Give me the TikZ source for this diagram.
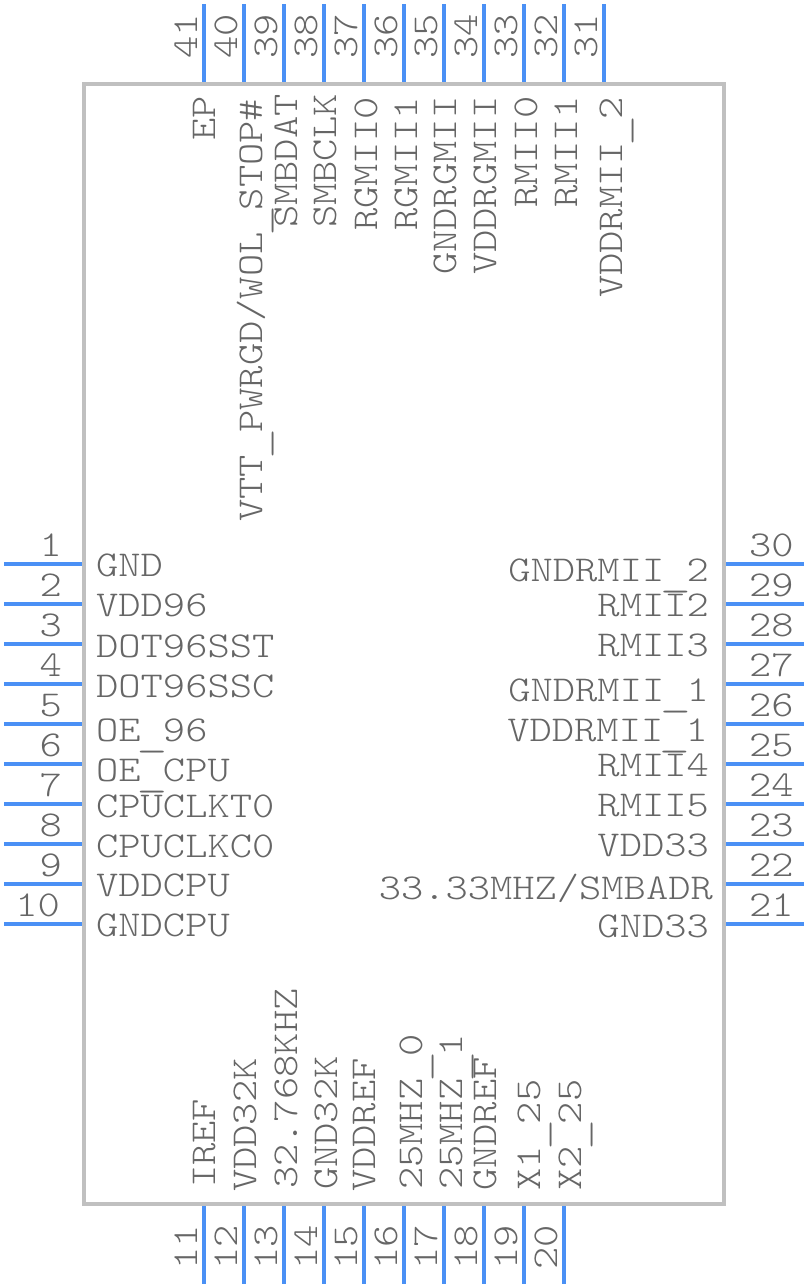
\documentclass[tikz,border=0pt]{standalone}
\usepackage{graphicx}
\usepackage{fontspec}
\setmonofont[FakeStretch=1.165]{Latin Modern Mono Light}
\definecolor{pinblue}{HTML}{4A90F5}
\definecolor{bodygray}{HTML}{C0C0C0}
\definecolor{textgray}{HTML}{666666}
\newcommand{\pinus}{\makebox[22.26pt]{\raisebox{-5pt}{\scalebox{1.4}[1]{\_}}}}
\tikzset{
    pinline/.style={draw=pinblue, line width=4pt},
    chipbody/.style={draw=bodygray, line width=4pt},
    pintext/.style={text=textgray, inner sep=0pt, font=\fontsize{36.4}{36.4}\selectfont\ttfamily},
    lefttext/.style={pintext, anchor=base west},
    righttext/.style={pintext, anchor=base east},
    uptext/.style={pintext, anchor=base west, rotate=90},
}
\begin{document}
\begin{tikzpicture}[x=1pt, y=-1pt]
    \useasboundingbox (0,0) rectangle (808,1288);
    \draw[chipbody] (84,84) rectangle (724,1204);

    % pins
    \draw[pinline] (4,564) -- (82,564) (4,604) -- (82,604) (4,644) -- (82,644) (4,684) -- (82,684) (4,724) -- (82,724)
        (4,764) -- (82,764) (4,804) -- (82,804) (4,844) -- (82,844) (4,884) -- (82,884) (4,924) -- (82,924);
    \draw[pinline] (726,564) -- (804,564) (726,604) -- (804,604) (726,644) -- (804,644) (726,684) -- (804,684) (726,724) -- (804,724)
        (726,764) -- (804,764) (726,804) -- (804,804) (726,844) -- (804,844) (726,884) -- (804,884) (726,924) -- (804,924);
    \draw[pinline] (204,4) -- (204,82) (244,4) -- (244,82) (284,4) -- (284,82) (324,4) -- (324,82) (364,4) -- (364,82) (404,4) -- (404,82)
        (444,4) -- (444,82) (484,4) -- (484,82) (524,4) -- (524,82) (564,4) -- (564,82) (604,4) -- (604,82);
    \draw[pinline] (204,1206) -- (204,1284) (244,1206) -- (244,1284) (284,1206) -- (284,1284) (324,1206) -- (324,1284) (364,1206) -- (364,1284)
        (404,1206) -- (404,1284) (444,1206) -- (444,1284) (484,1206) -- (484,1284) (524,1206) -- (524,1284) (564,1206) -- (564,1284);

    % left numbers
    \node[righttext] (n1) at (62,556) {1};
    \node[righttext] (n2) at (62,596) {2};
    \node[righttext] (n3) at (62,636) {3};
    \node[righttext] (n4) at (62,676) {4};
    \node[righttext] (n5) at (62,716) {5};
    \node[righttext] (n6) at (62,756) {6};
    \node[righttext] (n7) at (62,796) {7};
    \node[righttext] (n8) at (62,836) {8};
    \node[righttext] (n9) at (62,876) {9};
    \node[righttext] (n10) at (60,916) {10};

    % right numbers
    \node[lefttext] (n30) at (749,556) {30};
    \node[lefttext] (n29) at (749,596) {29};
    \node[lefttext] (n28) at (749,636) {28};
    \node[lefttext] (n27) at (749,676) {27};
    \node[lefttext] (n26) at (749,716) {26};
    \node[lefttext] (n25) at (749,756) {25};
    \node[lefttext] (n24) at (749,796) {24};
    \node[lefttext] (n23) at (749,836) {23};
    \node[lefttext] (n22) at (749,876) {22};
    \node[lefttext] (n21) at (749,916) {21};

    % top numbers
    \node[uptext] (n41) at (197,59) {41};
    \node[uptext] (n40) at (237,59) {40};
    \node[uptext] (n39) at (277,59) {39};
    \node[uptext] (n38) at (317,59) {38};
    \node[uptext] (n37) at (357,59) {37};
    \node[uptext] (n36) at (397,59) {36};
    \node[uptext] (n35) at (437,59) {35};
    \node[uptext] (n34) at (477,59) {34};
    \node[uptext] (n33) at (517,59) {33};
    \node[uptext] (n32) at (557,59) {32};
    \node[uptext] (n31) at (597,59) {31};

    % bottom numbers
    \node[uptext] (n11) at (197,1270) {11};
    \node[uptext] (n12) at (237,1270) {12};
    \node[uptext] (n13) at (277,1270) {13};
    \node[uptext] (n14) at (317,1270) {14};
    \node[uptext] (n15) at (357,1270) {15};
    \node[uptext] (n16) at (397,1270) {16};
    \node[uptext] (n17) at (437,1270) {17};
    \node[uptext] (n18) at (477,1270) {18};
    \node[uptext] (n19) at (517,1270) {19};
    \node[uptext] (n20) at (557,1270) {20};

    % left labels
    \node[lefttext] (gnd) at (96,576) {GND};
    \node[lefttext] (vddn) at (96,616) {VDD96};
    \node[lefttext] (dott) at (96,657) {DOT96SST};
    \node[lefttext] (dotc) at (96,697) {DOT96SSC};
    \node[lefttext] (oen) at (96,741) {OE\pinus 96};
    \node[lefttext] (oecpu) at (96,781) {OE\pinus CPU};
    \node[lefttext] (clkt) at (96,817) {CPUCLKT0};
    \node[lefttext] (clkc) at (96,857) {CPUCLKC0};
    \node[lefttext] (vddcpu) at (96,896) {VDDCPU};
    \node[lefttext] (gndcpu) at (96,936) {GNDCPU};

    % right labels
    \node[righttext] (gndrb) at (709,581) {GNDRMII\pinus 2};
    \node[righttext] (rmiib) at (709,616) {RMII2};
    \node[righttext] (rmiic) at (709,656) {RMII3};
    \node[righttext] (gndra) at (709,701) {GNDRMII\pinus 1};
    \node[righttext] (vddra) at (708,741) {VDDRMII\pinus 1};
    \node[righttext] (rmiid) at (709,776) {RMII4};
    \node[righttext] (rmiie) at (709,816) {RMII5};
    \node[righttext] (vddtt) at (709,856) {VDD33};
    \node[righttext] (smbadr) at (713,899) {33.33MHZ/SMBADR};
    \node[righttext] (gndtt) at (709,937) {GND33};

    % top labels
    \node[uptext] (ep) at (215,141) {EP};
    \node[uptext] (vtt) at (262,522) {VTT\pinus PWRGD/WOL\pinus STOP\#};
    \node[uptext] (smbdat) at (297,228) {SMBDAT};
    \node[uptext] (smbclk) at (336,228) {SMBCLK};
    \node[uptext] (rgmiia) at (377,231) {RGMII0};
    \node[uptext] (rgmiib) at (417,231) {RGMII1};
    \node[uptext] (gndrg) at (456,275) {GNDRGMII};
    \node[uptext] (vddrg) at (496,275) {VDDRGMII};
    \node[uptext] (rmiia) at (537,208) {RMII0};
    \node[uptext] (rmiif) at (577,208) {RMII1};
    \node[uptext] (vddrc) at (622,298) {VDDRMII\pinus 2};

    % bottom labels
    \node[uptext] (iref) at (215,1188) {IREF};
    \node[uptext] (vddk) at (256,1192) {VDD32K};
    \node[uptext] (khz) at (297,1189) {32.768KHZ};
    \node[uptext] (gndk) at (337,1190) {GND32K};
    \node[uptext] (vddref) at (375,1192) {VDDREF};
    \node[uptext] (mhza) at (422,1190) {25MHZ\pinus 0};
    \node[uptext] (mhzb) at (462,1190) {25MHZ\pinus 1};
    \node[uptext] (gndref) at (496,1191) {GNDREF};
    \node[uptext] (xa) at (540,1191) {X1\pinus 25};
    \node[uptext] (xb) at (581,1191) {X2\pinus 25};
\end{tikzpicture}
\end{document}
